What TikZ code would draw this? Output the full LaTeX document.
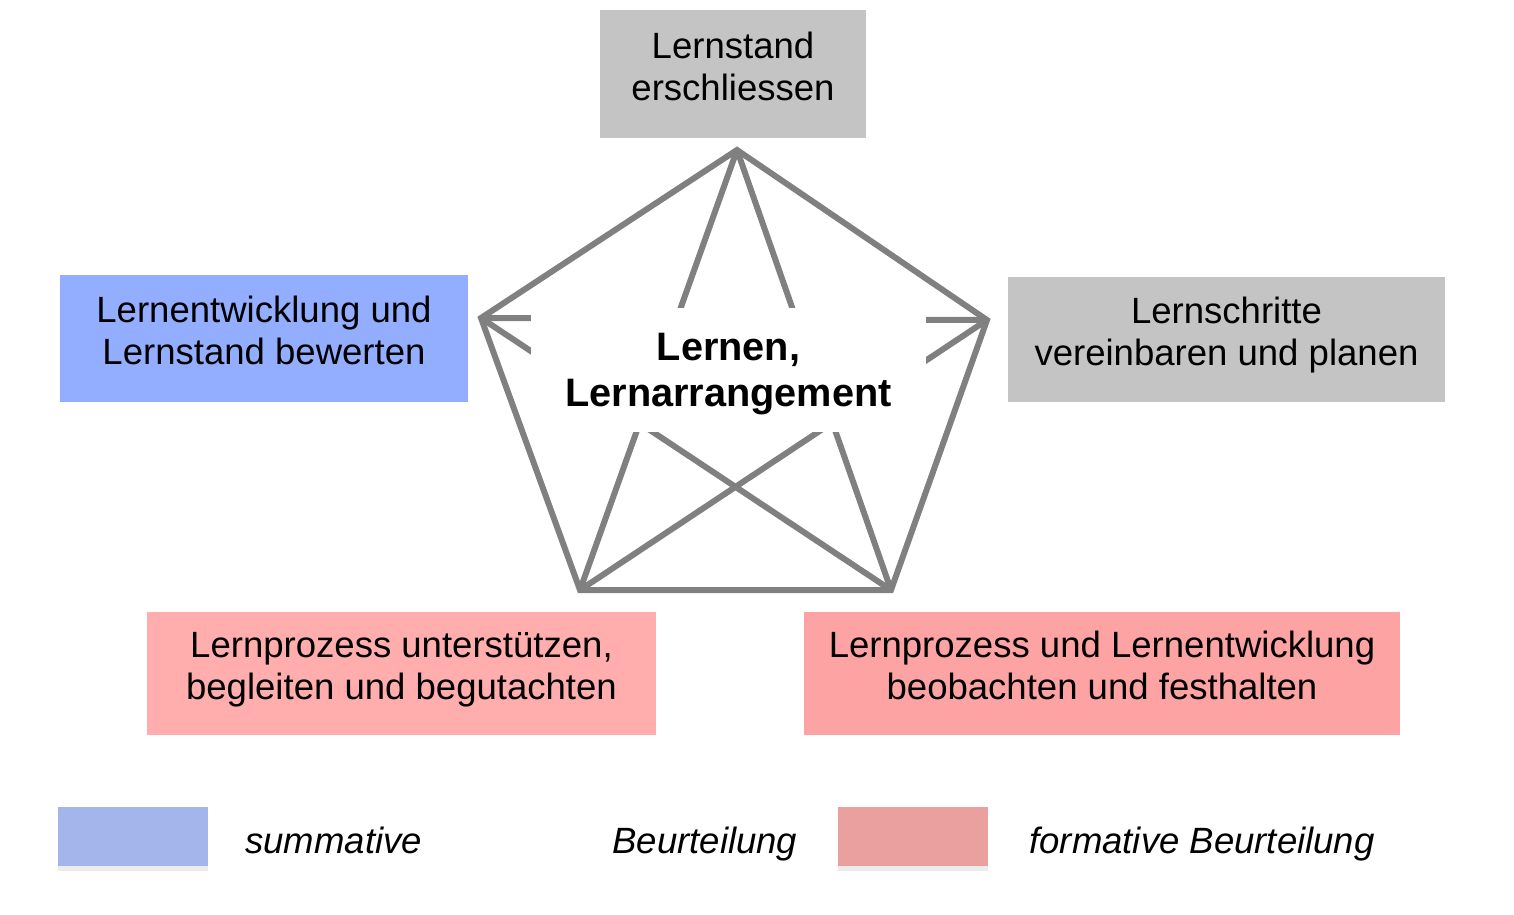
\documentclass[tikz,border=0pt]{standalone}
\usepackage{fontspec}
\setmainfont{Liberation Sans}
\usetikzlibrary{backgrounds,shadows}
\definecolor{linegray}{HTML}{808080}
\definecolor{taskgray}{HTML}{C4C4C4}
\definecolor{sumblue}{HTML}{94AEFF}
\definecolor{formred}{HTML}{FFADAD}
\definecolor{formred2}{HTML}{FDA3A3}
\definecolor{legblue}{HTML}{A4B5EC}
\definecolor{legred}{HTML}{EBA0A0}
\begin{document}
\begin{tikzpicture}[x=0.02cm, y=-0.02cm,
    every node/.style={font=\fontsize{20.8}{24}\selectfont, align=center, inner sep=0pt},
    task/.style={minimum width=#1, text height=39pt, text depth=9pt},
    edge/.style={draw=linegray, line width=3.4pt},
    legbox/.style={minimum width=3cm, minimum height=1.18cm,
        drop shadow={opacity=0.15, shadow xshift=0pt, shadow yshift=-0.1cm}},
    legtext/.style={anchor=base west, font=\itshape\fontsize{20.8}{24}\selectfont}]
    \useasboundingbox (0,0) rectangle (1514,914);
    % Aufgaben
    \node[task=5.32cm, minimum height=2.56cm, fill=taskgray] (erschl) at (733,74) {Lernstand\\erschliessen};
    \node[task=8.16cm, minimum height=2.54cm, fill=sumblue] (bewert) at (264,338.5) {Lernentwicklung und\\Lernstand bewerten};
    \node[task=8.74cm, minimum height=2.5cm, fill=taskgray] (planen) at (1226.5,339.5) {Lernschritte\\vereinbaren und planen};
    \node[task=10.18cm, minimum height=2.46cm, fill=formred] (begl) at (401.5,673.5) {Lernprozess unterst\"utzen,\\begleiten und begutachten};
    \node[task=11.92cm, minimum height=2.46cm, fill=formred2] (beob) at (1102,673.5) {Lernprozess und Lernentwicklung\\beobachten und festhalten};
    % Fuenfeck
    \coordinate (v1) at (737,150);
    \coordinate (v2) at (481,318);
    \coordinate (v3) at (987,320);
    \coordinate (v4) at (580,590);
    \coordinate (v5) at (891,590);
    \begin{scope}[on background layer]
        \draw[edge] (v1) -- (v2) -- (v4) -- (v5) -- (v3) -- cycle;
        \draw[edge] (v1) -- (v4);
        \draw[edge] (v1) -- (v5);
        \draw[edge] (v2) -- (v3);
        \draw[edge] (v2) -- (v5);
        \draw[edge] (v3) -- (v4);
    \end{scope}
    \node[fill=white, minimum width=7.9cm, minimum height=2.48cm, text height=42pt, text depth=0.5pt,
        font=\bfseries\fontsize{22.6}{26.1}\selectfont] (lernen) at (728.5,370) {Lernen,\\Lernarrangement};
    % Legende
    \node[legbox, fill=legblue] (sumbox) at (133,836.5) {};
    \node[legtext] (sumtxt) at (245,853) {summative};
    \node[legtext] (beurt) at (612,853) {Beurteilung};
    \node[legbox, fill=legred] (formbox) at (913,836.5) {};
    \node[legtext] (formtxt) at (1029,853) {formative Beurteilung};
\end{tikzpicture}
\end{document}
